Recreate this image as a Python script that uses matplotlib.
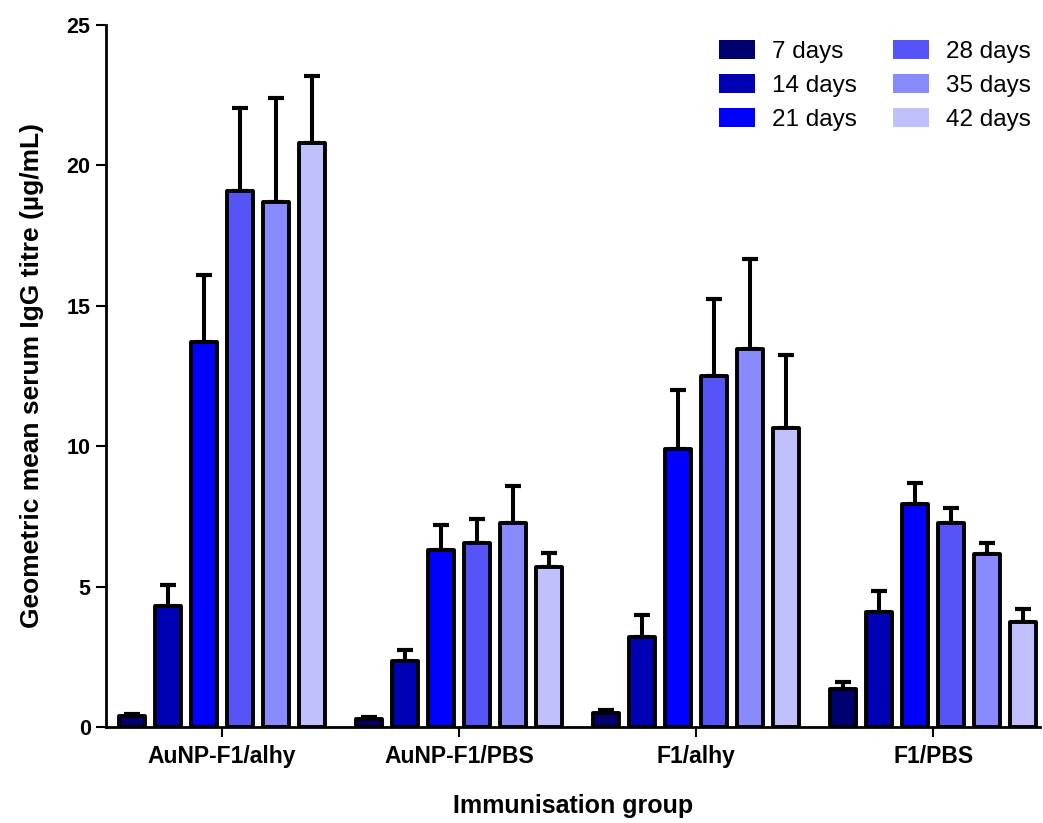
import numpy as np
import matplotlib.pyplot as plt
from matplotlib.patches import Patch

# Data
groups = ['AuNP-F1/alhy', 'AuNP-F1/PBS', 'F1/alhy', 'F1/PBS']
days = ['7 days', '14 days', '21 days', '28 days', '35 days', '42 days']
colors = ['#000070', '#0000b4', '#0000ff', '#5555f7', '#8a8aff', '#c0c0ff']

# mean titre per time point (one list per day, values per group)
d7 = [0.4, 0.3, 0.5, 1.35]
d14 = [4.3, 2.35, 3.2, 4.1]
d21 = [13.7, 6.3, 9.9, 7.95]
d28 = [19.1, 6.55, 12.5, 7.25]
d35 = [18.7, 7.25, 13.45, 6.15]
d42 = [20.8, 5.7, 10.65, 3.75]

# upper error (SEM)
e7 = [0.05, 0.05, 0.1, 0.25]
e14 = [0.75, 0.4, 0.8, 0.75]
e21 = [2.4, 0.9, 2.1, 0.75]
e28 = [2.95, 0.85, 2.75, 0.55]
e35 = [3.7, 1.35, 3.2, 0.4]
e42 = [2.4, 0.5, 2.6, 0.45]

means = [d7, d14, d21, d28, d35, d42]
errs = [e7, e14, e21, e28, e35, e42]

plt.rcParams['font.family'] = ['Liberation Sans', 'DejaVu Sans']

fig = plt.figure(figsize=(10.43, 8.23), dpi=100)
ax = fig.add_axes([106/1043, 96/823, 934/1043, 702/823])

x = np.arange(len(groups))
step = 0.152
width = 0.11
for i in range(len(days)):
    pos = x + (i - 2.5) * step
    ax.bar(pos, means[i], width, color=colors[i], edgecolor='black',
           linewidth=2.8, joinstyle='round', zorder=2)
    ax.errorbar(pos, means[i], yerr=[np.zeros(4), errs[i]], fmt='none',
                ecolor='black', elinewidth=2.9, capsize=6, capthick=3, zorder=1)

ax.set_xlim(-0.49, 3.45)
ax.set_ylim(0, 25)
ax.set_yticks([0, 5, 10, 15, 20, 25])
ax.set_xticks(x)
ax.set_xticklabels(groups, fontweight='bold', fontsize=16.5)
for lab in ax.get_yticklabels():
    lab.set_fontweight('bold')
    lab.set_fontsize(15.5)

for s in ['top', 'right']:
    ax.spines[s].set_visible(False)
ax.spines['left'].set_linewidth(2)
ax.spines['bottom'].set_linewidth(2)
ax.tick_params(axis='both', direction='out', width=1.5, length=7)
ax.tick_params(axis='x', pad=6)
ax.tick_params(axis='y', pad=4)

ax.set_ylabel('Geometric mean serum IgG titre (µg/mL)', fontweight='bold',
              fontsize=19, labelpad=16)
ax.set_xlabel('Immunisation group', fontweight='bold', fontsize=18, labelpad=19)

handles = [Patch(facecolor=c, edgecolor='none') for c in colors]
fig.legend(handles, days, ncol=2, frameon=False, fontsize=17.5,
           loc='upper left', bbox_to_anchor=(719/1043, 1 - 40/823),
           borderpad=0, borderaxespad=0, handlelength=1.47, handleheight=0.82,
           columnspacing=1.5, labelspacing=0.45, handletextpad=0.7)

fig.savefig('out.png', dpi=100)
